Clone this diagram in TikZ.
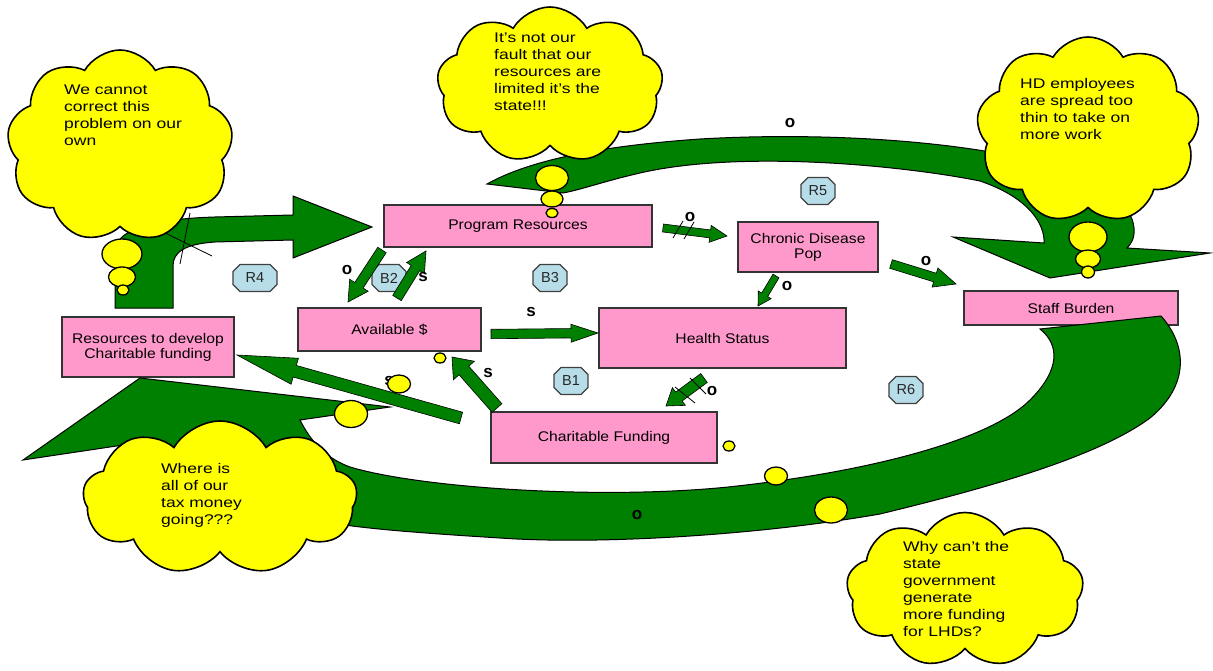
\documentclass[tikz,border=0pt]{standalone}
\usepackage{fontspec}
\setmainfont{Liberation Sans}
\newfontfamily\boxfont{Liberation Sans}[FakeStretch=1.12]
\newfontfamily\cloudfont{Liberation Sans}[FakeStretch=1.25]
\usetikzlibrary{calc,shapes.symbols,shapes.geometric}
\definecolor{boxpink}{HTML}{FF99CC}
\definecolor{arrgreen}{HTML}{008000}
\definecolor{octblue}{HTML}{B7DDE8}
\definecolor{boxedge}{HTML}{333333}
\definecolor{thyellow}{HTML}{FFFF00}
% block arrow: [opts]{from}{to}{shaft half width}{head half width}{head length}
\newcommand\blkarr[6][]{%
  \coordinate (bn) at ($(#3)!#6!(#2)$);
  \draw[smallarrow,#1] ($(#2)!#4!90:(#3)$) -- ($(bn)!#4!90:(#3)$) -- ($(bn)!#5!90:(#3)$) -- (#3)
    -- ($(bn)!#5!-90:(#3)$) -- ($(bn)!#4!-90:(#3)$) -- ($(#2)!#4!-90:(#3)$) -- cycle;}
% octagon: {name}{x}{y}{half width}{label}
\newcommand\mkoct[5]{%
  \begin{scope}[shift={(#2,#3)}]
    \draw[octo] (-#4,-6.5) -- (-#4+7,-13.5) -- (#4-7,-13.5) -- (#4,-6.5) -- (#4,6.5) -- (#4-7,13.5) -- (-#4+7,13.5) -- (-#4,6.5) -- cycle;
    \node[octtext] (#1) at (0,0) {#5};
  \end{scope}}
\begin{document}
\begin{tikzpicture}[x=1pt,y=-1pt,
  box/.style={draw=boxedge, line width=1.3pt, fill=boxpink, align=center, inner sep=0pt, font=\boxfont\fontsize{14}{15}\selectfont},
  bigarrow/.style={fill=arrgreen, draw=black, line width=1pt},
  smallarrow/.style={fill=arrgreen, draw=black, line width=0.6pt},
  octo/.style={fill=octblue, draw=black!75, line width=1.1pt},
  octtext/.style={font=\fontsize{14.5}{14.5}\selectfont, text=black!85, inner sep=0pt},
  lab/.style={font=\bfseries\fontsize{17}{17}\selectfont, inner sep=0pt},
  thought/.style={cloud, cloud puffs=9, cloud puff arc=120, cloud ignores aspect, draw=black, line width=1.6pt, fill=thyellow, inner sep=0pt},
  bubble/.style={ellipse, draw=black, line width=1.3pt, fill=thyellow, inner sep=0pt},
  cloudtext/.style={font=\cloudfont\fontsize{14}{17}\selectfont, align=left, inner sep=0pt, anchor=north west},
  delaymark/.style={draw=black, line width=0.8pt}
]
\useasboundingbox (0,0) rectangle (1213,671);
\fill[white] (0,0) rectangle (1213,671);

% ---- big arrows (behind boxes) ----
% top-left L arrow
\draw[bigarrow] (115,308) -- (115,252) .. controls (115,230) and (150,219) .. (215,217) -- (293,215)
  -- (293,196) -- (372,227) -- (293,258) -- (293,240) -- (215,242)
  .. controls (185,244) and (173,252) .. (173,266) -- (173,308) -- cycle;
\draw[delaymark] (153,227) -- (212,256);
\draw[delaymark] (190,213) -- (180,264);
% top arc
\draw[bigarrow] (487,184) .. controls (530,160) and (600,146) .. (700,139)
  .. controls (820,132) and (960,140) .. (1050,165)
  .. controls (1105,182) and (1132,205) .. (1134,228)
  .. controls (1135,238) and (1131,244) .. (1127,248)
  -- (1210,253) -- (1050,278) -- (953,237) -- (1044,243)
  .. controls (1045,225) and (1030,198) .. (980,181)
  .. controls (900,165) and (740,150) .. (640,173)
  .. controls (605,181) and (580,190) .. (563,193) -- cycle;

% ---- boxes ----
\node[box, minimum width=268pt, minimum height=42pt] (pr) at (518,226) {Program Resources};
\node[box, minimum width=140pt, minimum height=50pt] (cdp) at (808,247) {Chronic Disease\\Pop};
\node[box, minimum width=214pt, minimum height=34pt] (sb) at (1071,308) {Staff Burden};
\node[box, minimum width=183pt, minimum height=43pt] (av) at (389.5,329.5) {Available \$};
\node[box, minimum width=247pt, minimum height=60pt] (hs) at (722.5,338) {Health Status};
\node[box, minimum width=172pt, minimum height=60pt] (rcf) at (148,347) {Resources to develop\\Charitable funding};
\node[box, minimum width=226pt, minimum height=51pt] (cf) at (604,437.5) {Charitable Funding};

% bottom arc (over Staff Burden)
\draw[bigarrow] (1040,329) -- (1161,316) .. controls (1187,345) and (1190,385) .. (1150,418)
  .. controls (1100,455) and (1000,485) .. (880,514)
  .. controls (760,535) and (600,545) .. (500,538)
  .. controls (420,533) and (350,528) .. (317,520)
  .. controls (250,500) and (190,465) .. (150,441)
  -- (23,460) -- (140,378) -- (390,407) -- (300,420)
  .. controls (310,440) and (325,458) .. (350,467)
  .. controls (420,488) and (600,500) .. (728,487)
  .. controls (870,472) and (990,440) .. (1030,400)
  .. controls (1060,370) and (1060,345) .. (1040,329) -- cycle;

% ---- loop markers ----
\mkoct{r4}{255}{278}{22}{R4}
\mkoct{b2}{389}{278}{17}{B2}
\mkoct{b3}{550}{278}{17}{B3}
\mkoct{r5}{818}{191}{17}{R5}
\mkoct{b1}{571}{381}{17}{B1}
\mkoct{r6}{906}{390}{17}{R6}

% ---- small arrows ----
\coordinate (a1t) at (663,228); \coordinate (a1h) at (727,236);
\blkarr{a1t}{a1h}{4pt}{8.5pt}{17pt}
\draw[delaymark] (673,238) -- (683,221);
\draw[delaymark] (684,239) -- (694,222);
\coordinate (a2t) at (891,264); \coordinate (a2h) at (956,284);
\blkarr{a2t}{a2h}{4.5pt}{10pt}{22pt}
\coordinate (a3t) at (776,276); \coordinate (a3h) at (758,306);
\blkarr{a3t}{a3h}{3.5pt}{7.5pt}{13pt}
\coordinate (a4t) at (382,250); \coordinate (a4h) at (348,302);
\blkarr{a4t}{a4h}{5pt}{11pt}{20pt}
\coordinate (a5t) at (397,298); \coordinate (a5h) at (426,251);
\blkarr{a5t}{a5h}{5pt}{10.5pt}{20pt}
\coordinate (a6t) at (491,334); \coordinate (a6h) at (598,333);
\blkarr{a6t}{a6h}{4.7pt}{9pt}{27pt}
\coordinate (a7t) at (704,378); \coordinate (a7h) at (666,406);
\blkarr{a7t}{a7h}{5.5pt}{11pt}{16pt}
\draw[delaymark] (675,387) -- (695,403);
\draw[delaymark] (690,378) -- (706,394);
\coordinate (a8t) at (497,408); \coordinate (a8h) at (452,357);
\blkarr{a8t}{a8h}{6.5pt}{14pt}{18pt}
\coordinate (a9t) at (461,418); \coordinate (a9h) at (237,355);
\blkarr{a9t}{a9h}{6pt}{13.5pt}{60pt}

% ---- polarity labels ----
\node[lab] (l1) at (790,123) {o};
\node[lab] (l2) at (690,217) {o};
\node[lab] (l3) at (347,270) {o};
\node[lab] (l4) at (787,286) {o};
\node[lab] (l5) at (926,261) {o};
\node[lab] (l6) at (712,391) {o};
\node[lab] (l7) at (637,515) {o};
\node[lab] (l8) at (423,277) {s};
\node[lab] (l9) at (531,312) {s};
\node[lab] (l10) at (488,373) {s};
\node[lab] (l11) at (389,381) {s};

% ---- thought clouds ----
\node[thought, minimum width=226pt, minimum height=192pt] (c1) at (120,146) {};
\node[bubble, minimum width=40pt, minimum height=30pt] (c1b1) at (122,254) {};
\node[bubble, minimum width=27pt, minimum height=20pt] (c1b2) at (122,277) {};
\node[bubble, minimum width=12pt, minimum height=10pt] (c1b3) at (123,290) {};
\node[cloudtext] (c1t) at (64,85) {We cannot\\correct this\\problem on our\\own};

\node[thought, minimum width=226pt, minimum height=156pt] (c2) at (550,85) {};
\node[bubble, minimum width=33pt, minimum height=25pt] (c2b1) at (552,178) {};
\node[bubble, minimum width=22pt, minimum height=16pt] (c2b2) at (552,199) {};
\node[bubble, minimum width=12pt, minimum height=9pt] (c2b3) at (552,213) {};
\node[cloudtext] (c2t) at (494,33) {It’s not our\\fault that our\\resources are\\limited it’s the\\state!!!};

\node[thought, minimum width=223pt, minimum height=186pt] (c3) at (1088,130) {};
\node[bubble, minimum width=38pt, minimum height=30pt] (c3b1) at (1088,237) {};
\node[bubble, minimum width=25pt, minimum height=18pt] (c3b2) at (1088,259) {};
\node[bubble, minimum width=13pt, minimum height=12pt] (c3b3) at (1088,272) {};
\node[cloudtext] (c3t) at (1020,78) {HD employees\\are spread too\\thin to take on\\more work};

\node[thought, minimum width=274pt, minimum height=154pt] (c4) at (220,498) {};
\node[bubble, minimum width=33pt, minimum height=27pt] (c4b1) at (351,414) {};
\node[bubble, minimum width=23pt, minimum height=18pt] (c4b2) at (399,384) {};
\node[bubble, minimum width=12pt, minimum height=10pt] (c4b3) at (440,358) {};
\node[cloudtext] (c4t) at (161,463) {Where is\\all of our\\tax money\\going???};

\node[thought, minimum width=237pt, minimum height=155pt] (c5) at (965,590) {};
\node[bubble, minimum width=33pt, minimum height=26pt] (c5b1) at (831,510) {};
\node[bubble, minimum width=23pt, minimum height=18pt] (c5b2) at (776,476) {};
\node[bubble, minimum width=12pt, minimum height=10pt] (c5b3) at (729,446) {};
\node[cloudtext] (c5t) at (903,541) {Why can’t the\\state\\government\\generate\\more funding\\for LHDs?};
\end{tikzpicture}
\end{document}
